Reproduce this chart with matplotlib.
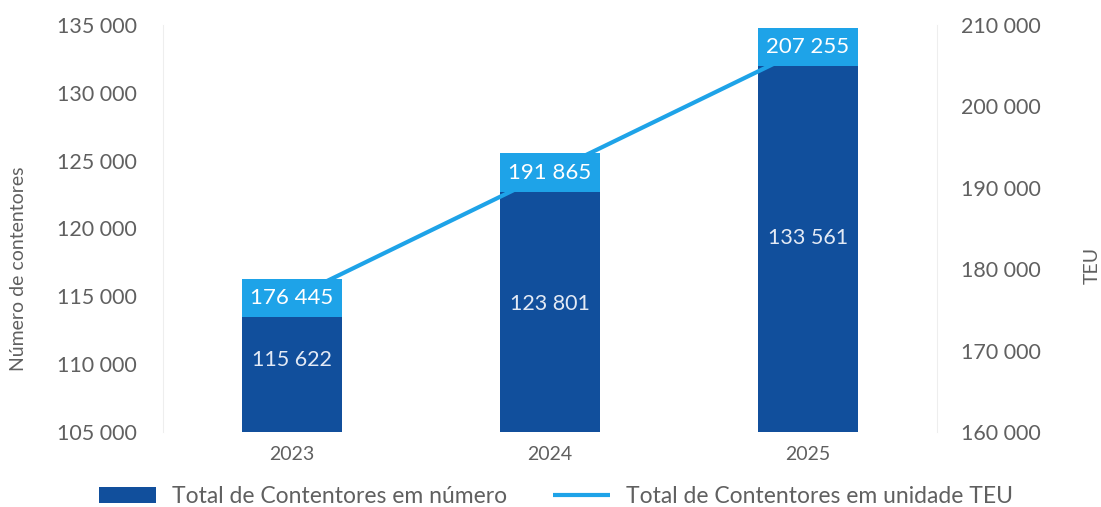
import numpy as np
import matplotlib.pyplot as plt
from matplotlib.ticker import FuncFormatter

years = ["2023", "2024", "2025"]
contentores = [115622, 123801, 133561]
teu = [176445, 191865, 207255]

bar_color = "#114f9c"
line_color = "#1ea3e8"
txt_grey = "#606060"

plt.rcParams['font.family'] = ['Lato', 'DejaVu Sans']


def fmt(v, pos=None):
    return f"{int(round(v)):,}".replace(",", " ")


fig = plt.figure(figsize=(11.01, 5.07), dpi=100)
ax = fig.add_axes([0.148, 0.148, 0.703, 0.803])
ax2 = ax.twinx()

x = np.arange(len(years))
bw = 0.39

ax.bar(x, np.array(contentores) - 105000, bottom=105000, width=bw,
       color=bar_color, zorder=2, label="Total de Contentores em número")
for xi, v in zip(x, contentores):
    ax.text(xi, (105000 + v) / 2, fmt(v), ha='center', va='center',
            color="#e3eaf5", fontsize=15.5, zorder=3)

ax.set_xlim(-0.5, 2.5)
ax.set_ylim(105000, 135000)
ax.set_yticks(np.arange(105000, 135001, 5000))
ax.yaxis.set_major_formatter(FuncFormatter(fmt))
ax.set_xticks(x)
ax.set_xticklabels(years)

ax2.set_ylim(160000, 210000)
ax2.set_yticks(np.arange(160000, 210001, 10000))
ax2.yaxis.set_major_formatter(FuncFormatter(fmt))

ax2.plot(x, teu, color=line_color, lw=3, zorder=2, solid_capstyle='butt',
         label="Total de Contentores em unidade TEU")
box_h = 4700
ax2.bar(x, box_h, bottom=np.array(teu) - box_h / 2, width=bw,
        color=line_color, zorder=3)
for xi, v in zip(x, teu):
    ax2.text(xi, v, fmt(v), ha='center', va='center', color='white',
             fontsize=16, zorder=4)

for a in (ax, ax2):
    a.tick_params(length=0, labelsize=15.5, colors=txt_grey)
    for s in a.spines.values():
        s.set_visible(False)
    a.set_facecolor('none')
ax.tick_params(axis='y', pad=19)
ax2.tick_params(axis='y', pad=17)
ax.tick_params(axis='x', pad=10, labelsize=14)
ax.spines['left'].set_visible(True)
ax.spines['left'].set_color('#eeeeee')
ax2.spines['right'].set_visible(True)
ax2.spines['right'].set_color('#eeeeee')

ax.set_ylabel("Número de contentores", fontsize=14, color=txt_grey)
ax2.set_ylabel("TEU", fontsize=14, color=txt_grey)
ax.yaxis.set_label_coords(-0.176, 0.40)
ax2.yaxis.set_label_coords(1.19, 0.41)

h1, l1 = ax.get_legend_handles_labels()
h2, l2 = ax2.get_legend_handles_labels()
fig.legend(h1 + h2, l1 + l2, loc='lower center', ncol=2, frameon=False,
           fontsize=16.5, labelcolor=txt_grey, bbox_to_anchor=(0.505, -0.04),
           handlelength=2.5, handletextpad=0.7, columnspacing=2.0)

fig.savefig("out.png", dpi=100)
